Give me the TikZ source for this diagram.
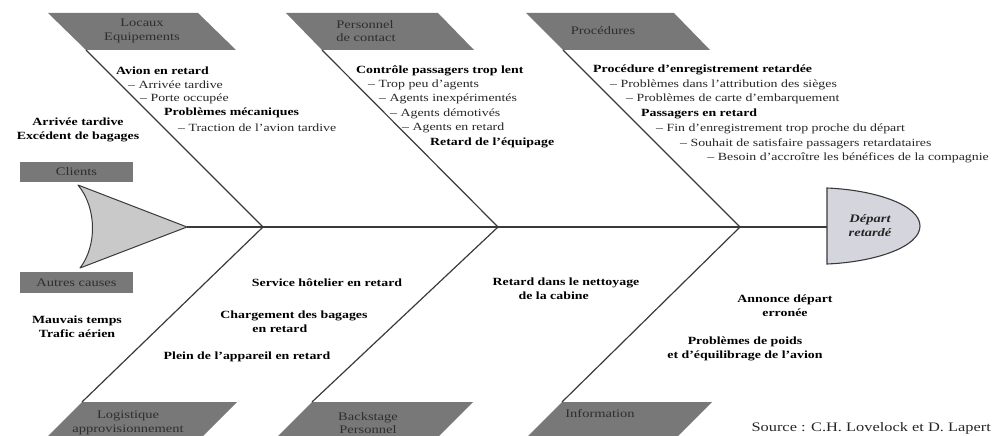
\documentclass[tikz,border=0pt]{standalone}
\usepackage{fontspec}
\setmainfont{Liberation Serif}[FakeStretch=1.26]
\definecolor{bonegray}{HTML}{3A3A3A}
\definecolor{boxgray}{HTML}{787878}
\definecolor{boxtext}{HTML}{2E2E2E}
\definecolor{tailfill}{HTML}{C9C9C9}
\definecolor{headfill}{HTML}{D5D6DD}
\definecolor{subtext}{HTML}{262626}
\newcommand\txtfont{\fontsize{11}{14.3}\selectfont}
\newcommand\catfont{\fontsize{11.5}{13.5}\selectfont}
\tikzset{
  bone/.style={draw=bonegray, line width=1.2pt},
  catbox/.style={fill=boxgray, draw=none},
  cattext/.style={text=boxtext, font=\catfont, align=center, inner sep=0pt},
  cause/.style={font=\txtfont\bfseries, anchor=west, inner sep=0pt, text=black},
  subcause/.style={font=\txtfont, anchor=west, inner sep=0pt, text=subtext},
  causeblock/.style={font=\txtfont\bfseries, inner sep=0pt, text=black},
}
\begin{document}
\begin{tikzpicture}[x=1pt, y=-1pt]
\useasboundingbox (0,0) rectangle (993,436);
\clip (0,0) rectangle (993,436);

% ---- junctions on the spine and ends of the bones
\coordinate (tailtip) at (187,227);
\coordinate (headw) at (827,227);
\coordinate (j1) at (263,227);
\coordinate (j2) at (498,227);
\coordinate (j3) at (740,227);
\coordinate (u1) at (86,50);
\coordinate (u2) at (322,50);
\coordinate (u3) at (563,50);
\coordinate (d1) at (82,402);
\coordinate (d2) at (312,402);
\coordinate (d3) at (562,402);

% ---- upper category labels
\fill[catbox] (48,13) -- (198,13) -- (236,50) -- (u1) -- cycle;
\node[cattext] (locaux) at (142,31) {Locaux\\Equipements};
\fill[catbox] (286,13) -- (438,13) -- (474,50) -- (u2) -- cycle;
\node[cattext, align=left] (perso) at (366,31) {Personnel\\de contact};
\fill[catbox] (526,13) -- (674,13) -- (710,50) -- (u3) -- cycle;
\node[cattext] (proc) at (603,31) {Procédures};

% ---- lower category labels
\fill[catbox] (d1) -- (237,402) -- (193,446) -- (38,446) -- cycle;
\node[cattext] (logis) at (128,423) {Logistique\\approvisionnement};
\fill[catbox] (d2) -- (473,402) -- (429,446) -- (268,446) -- cycle;
\node[cattext] (backst) at (368,423) {Backstage\\Personnel};
\fill[catbox] (d3) -- (712,402) -- (668,446) -- (518,446) -- cycle;
\node[cattext] (info) at (600,414) {Information};

% ---- side boxes
\node[catbox, minimum width=113pt, minimum height=20pt, inner sep=0pt,
      text=boxtext, font=\catfont] (clients) at (76.5,172) {Clients};
\node[catbox, minimum width=113pt, minimum height=21pt, inner sep=0pt,
      text=boxtext, font=\catfont] (autres) at (76.5,282.5) {Autres causes};

% ---- tail
\filldraw[fill=tailfill, draw=bonegray, line width=1pt, line join=round]
  (78,185) -- (tailtip) -- (80,268)
  .. controls (97,246) and (97,208) .. (78,185) -- cycle;

% ---- head
\filldraw[fill=headfill, draw=bonegray, line width=1.1pt]
  (827,188) .. controls (875,190) and (920,205) .. (920,226)
  .. controls (920,247) and (875,262) .. (827,264) -- cycle;
\node[font=\fontsize{11.5}{14}\selectfont\bfseries\itshape, align=center,
      inner sep=0pt, text=black!85] (head) at (870,226) {Départ\\retardé};

% ---- spine and bones
\draw[bone] (tailtip) -- (headw);
\draw[bone] (u1) -- (j1) -- (d1);
\draw[bone] (u2) -- (j2) -- (d2);
\draw[bone] (u3) -- (j3) -- (d3);

% ---- causes: Locaux / Equipements
\node[cause]    (a1) at (116,71)  {Avion en retard};
\node[subcause] (a2) at (128,85)  {– Arrivée tardive};
\node[subcause] (a3) at (140,99)  {– Porte occupée};
\node[cause]    (a4) at (164,113) {Problèmes mécaniques};
\node[subcause] (a5) at (178,128) {– Traction de l’avion tardive};

% ---- causes: Clients
\node[causeblock, align=center] (c1) at (78,130) {Arrivée tardive\\Excédent de bagages};

% ---- causes: Personnel de contact
\node[cause]    (b1) at (356,71)  {Contrôle passagers trop lent};
\node[subcause] (b2) at (368,85)  {– Trop peu d’agents};
\node[subcause] (b3) at (379,99)  {– Agents inexpérimentés};
\node[subcause] (b4) at (390,114) {– Agents démotivés};
\node[subcause] (b5) at (402,128) {– Agents en retard};
\node[cause]    (b6) at (430,143) {Retard de l’équipage};

% ---- causes: Procédures
\node[cause]    (p1) at (593,70)  {Procédure d’enregistrement retardée};
\node[subcause] (p2) at (610,85)  {– Problèmes dans l’attribution des sièges};
\node[subcause] (p3) at (626,99)  {– Problèmes de carte d’embarquement};
\node[cause]    (p4) at (641,114) {Passagers en retard};
\node[subcause] (p5) at (656,129) {– Fin d’enregistrement trop proche du départ};
\node[subcause] (p6) at (680,144) {– Souhait de satisfaire passagers retardataires};
\node[subcause, anchor=east] (p7) at (989,158) {– Besoin d’accroître les bénéfices de la compagnie};

% ---- causes: Autres causes
\node[causeblock, align=center] (o1) at (77,327) {Mauvais temps\\Trafic aérien};

% ---- causes: Logistique / Backstage
\node[causeblock] (e1) at (327,283) {Service hôtelier en retard};
\node[causeblock, align=left] (e2) at (294,322) {Chargement des bagages\\\hspace*{32pt}en retard};
\node[causeblock] (e3) at (247,357) {Plein de l’appareil en retard};
\node[causeblock, align=left] (f1) at (566,289) {Retard dans le nettoyage\\\hspace*{26pt}de la cabine};

% ---- causes: Information
\node[causeblock, align=center] (g1) at (785,306) {Annonce départ\\erronée};
\node[causeblock, align=center] (g2) at (745,349) {Problèmes de poids\\et d’équilibrage de l’avion};

% ---- source line, bottom right
\node[font=\fontsize{13}{15}\selectfont, anchor=east, inner sep=0pt, text=subtext] (src) at (991,428)
  {Source : C.H. Lovelock et D. Lapert};
\end{tikzpicture}
\end{document}
